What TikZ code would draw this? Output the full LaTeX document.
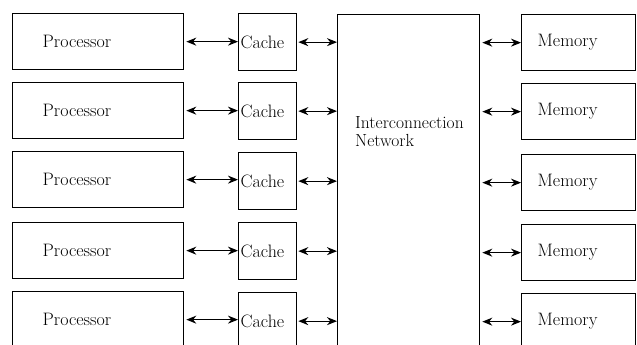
\documentclass[tikz,border=0pt]{standalone}
\usetikzlibrary{arrows.meta}
\begin{document}
\begin{tikzpicture}[x=1pt,y=-1pt,
  box/.style={draw, line width=1.3pt, rectangle, inner ysep=0pt, minimum height=56pt, anchor=north west, align=left, font=\fontsize{18}{19}\selectfont},
  procbox/.style={box, text width=111pt, inner xsep=30pt},
  cachebox/.style={box, text width=54pt, inner xsep=2pt, minimum height=57pt},
  membox/.style={box, text width=82pt, inner xsep=16pt},
  link/.style={line width=1.2pt, {Stealth[length=10pt,width=8pt]}-{Stealth[length=10pt,width=8pt]}},
  lbl/.style={font=\fontsize{17.5}{18}\selectfont, align=left, inner sep=0pt}
]
\clip (0,0) rectangle (637,345);
% interconnection network
\node[draw, line width=1.3pt, minimum width=142pt, minimum height=360pt, anchor=north west, inner sep=0pt] (net) at (337,14) {};
\node[lbl, anchor=north west] (netlbl) at (355,116) {Interconnection\\Network};
% rows
\foreach \i/\py/\cy/\my in {1/13/13/14, 2/82/82/83, 3/151/152/154, 4/222/222/224, 5/291/292/293}{
  \node[procbox] (p\i) at (12,\py) {Processor};
  \node[cachebox] (c\i) at (238,\cy) {Cache};
  \node[membox] (m\i) at (521,\my) {Memory};
}
\foreach \i in {1,...,5}{
  \draw[link] ([xshift=2pt]p\i.east) -- (p\i.east -| c\i.west);
  \draw[link] ([xshift=1pt]c\i.east) -- (c\i.east -| net.west);
  \draw[link] ([xshift=2pt]m\i.west -| net.east) -- (m\i.west);
}
\end{tikzpicture}
\end{document}
